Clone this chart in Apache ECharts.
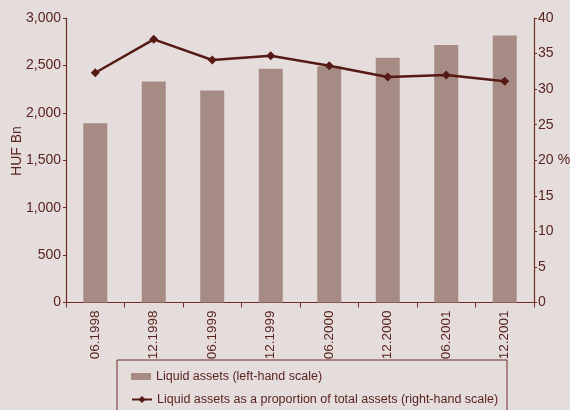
<!DOCTYPE html>
<html>
<head>
<meta charset="utf-8">
<script src="https://cdn.jsdelivr.net/npm/echarts@6/dist/echarts.min.js"></script>
<style>
  html, body { margin: 0; padding: 0; background: #e5dddc; }
  #chart { width: 570px; height: 410px; }
</style>
</head>
<body>
<div id="chart"></div>
<script>
// Semi-annual observation dates
const categories = ['06.1998', '12.1998', '06.1999', '12.1999', '06.2000', '12.2000', '06.2001', '12.2001'];
// Liquid assets, HUF Bn (left-hand scale)
const liquidAssets = [1890, 2330, 2235, 2465, 2490, 2580, 2715, 2815];
// Liquid assets as a share of total assets, % (right-hand scale)
const liquidShare = [32.3, 37.0, 34.1, 34.7, 33.3, 31.7, 32.0, 31.1];

const BAR_NAME = 'Liquid assets (left-hand scale)';
const LINE_NAME = 'Liquid assets as a proportion of total assets (right-hand scale)';

const FONT = "'Liberation Sans Narrow', 'Arial Narrow', 'Liberation Sans', sans-serif";
const TEXT = '#5a2420';
const AXIS = '#6e2e27';
const BAR = '#a68b84';
const LINE = '#561a14';

const chart = echarts.init(document.getElementById('chart'), null, { renderer: 'canvas' });

const legendText = { fontFamily: FONT, fontSize: 12.5, color: TEXT };

chart.setOption({
  backgroundColor: '#e5dddc',
  animation: false,
  textStyle: { fontFamily: FONT, color: TEXT },
  grid: { left: 66, right: 36, top: 18, bottom: 107.5, containLabel: false },
  legend: [
    {
      left: 126, top: 365,
      itemWidth: 20, itemHeight: 7, itemGap: 6,
      textStyle: legendText,
      data: [{ name: BAR_NAME, icon: 'rect' }]
    },
    {
      left: 126, top: 388,
      itemWidth: 20, itemHeight: 9,
      textStyle: legendText,
      data: [{ name: LINE_NAME }]
    }
  ],
  graphic: [
    {
      type: 'rect',
      shape: { x: 117, y: 360, width: 390, height: 60 },
      style: { fill: 'none', stroke: AXIS, lineWidth: 1 },
      z: -1
    },
    {
      type: 'text',
      x: 17, y: 151,
      rotation: Math.PI / 2,
      style: { text: 'HUF Bn', font: '14px ' + FONT, fill: TEXT, align: 'center', verticalAlign: 'middle' }
    },
    {
      type: 'text',
      x: 564, y: 160,
      style: { text: '%', font: '14px ' + FONT, fill: TEXT, align: 'center', verticalAlign: 'middle' }
    }
  ],
  xAxis: {
    type: 'category',
    data: categories,
    boundaryGap: true,
    axisLine: { lineStyle: { color: AXIS, width: 1.2 } },
    axisTick: { show: true, interval: 0, length: 5, lineStyle: { color: AXIS } },
    axisLabel: { rotate: 90, fontSize: 13.5, color: TEXT, fontFamily: FONT, margin: 8, interval: 0 },
    splitLine: { show: false }
  },
  yAxis: [
    {
      type: 'value',
      min: 0, max: 3000, interval: 500,
      axisLine: { show: true, lineStyle: { color: AXIS, width: 1.2 } },
      axisTick: { show: true, length: 3, lineStyle: { color: AXIS } },
      axisLabel: {
        fontSize: 14, color: TEXT, fontFamily: FONT, margin: 5,
        formatter: v => v.toLocaleString('en-US')
      },
      splitLine: { show: false }
    },
    {
      type: 'value',
      min: 0, max: 40, interval: 5,
      position: 'right',
      axisLine: { show: true, lineStyle: { color: AXIS, width: 1.2 } },
      axisTick: { show: true, length: 3, lineStyle: { color: AXIS } },
      axisLabel: { fontSize: 14, color: TEXT, fontFamily: FONT, margin: 4 },
      splitLine: { show: false }
    }
  ],
  series: [
    {
      name: BAR_NAME,
      type: 'bar',
      yAxisIndex: 0,
      data: liquidAssets,
      barWidth: 24,
      itemStyle: { color: BAR },
      z: 1
    },
    {
      name: LINE_NAME,
      type: 'line',
      yAxisIndex: 1,
      data: liquidShare,
      symbol: 'diamond',
      symbolSize: 9,
      lineStyle: { color: LINE, width: 2.5 },
      itemStyle: { color: LINE },
      z: 3
    }
  ]
});
</script>
</body>
</html>
